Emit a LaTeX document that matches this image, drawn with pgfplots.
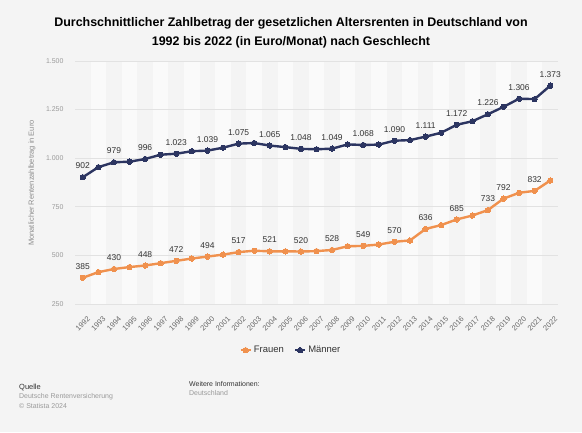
\documentclass[border=0pt]{standalone}
\usepackage{pgfplots}
\pgfplotsset{compat=1.18}
\usepackage{fontspec}
\setmainfont{Liberation Sans}
\definecolor{bgc}{HTML}{F4F4F4}
\definecolor{stripe}{HTML}{FAFAFA}
\definecolor{gridc}{HTML}{E2E2E2}
\definecolor{navy}{HTML}{2C3561}
\definecolor{orng}{HTML}{F0914E}
\definecolor{txt}{HTML}{333333}
\definecolor{tick}{HTML}{9A9A9A}
\definecolor{xtick}{HTML}{666666}
\definecolor{ylab}{HTML}{8C8C8C}
\begin{document}
\begin{tikzpicture}[x=1bp,y=1bp]
\fill[bgc] (0,0) rectangle (582,432);
\node[font=\fontsize{12.5}{19.5}\selectfont\bfseries, text=black, align=center, anchor=north] at (291,418)
  {Durchschnittlicher Zahlbetrag der gesetzlichen Altersrenten in Deutschland von\\1992 bis 2022 (in Euro/Monat) nach Geschlecht};
\begin{axis}[
  at={(75bp,128bp)}, anchor=south west,
  scale only axis, width=483bp, height=243bp,
  xmin=1991.5, xmax=2022.5, ymin=250, ymax=1500,
  axis line style={draw=none},
  major tick length=0pt,
  xtick={1992,1993,...,2022},
  xticklabels={1992,1993,1994,1995,1996,1997,1998,1999,2000,2001,2002,2003,2004,2005,2006,2007,2008,2009,2010,2011,2012,2013,2014,2015,2016,2017,2018,2019,2020,2021,2022},
  xticklabel style={yshift=-12bp, xshift=4bp, rotate=45, anchor=north east, font=\fontsize{7.5}{8}\selectfont, text=xtick, inner sep=0pt},
  ytick={250,500,750,1000,1250,1500},
  yticklabels={250,500,750,{1.000},{1.250},{1.500}},
  yticklabel style={font=\fontsize{7}{8}\selectfont, text=tick, xshift=-8bp},
  clip=false,
  legend style={at={(0.447,-0.19)}, anchor=center, draw=none, fill=none, legend columns=2,
    font=\fontsize{9.5}{10}\selectfont, text=txt, /tikz/every even column/.append style={column sep=8bp}},
  legend image code/.code={\draw[mark repeat=2,mark phase=2,#1] plot coordinates {(0bp,0bp) (5bp,0bp) (10bp,0bp)};},
  nodes near coords, point meta=explicit symbolic,
  every node near coord/.append style={font=\fontsize{8.5}{9}\selectfont, text=txt, anchor=south, yshift=5bp},
]
\pgfplotsinvokeforeach{1993,1995,...,2021}{
  \fill[stripe] (axis cs:#1-0.5,250) rectangle (axis cs:#1+0.5,1500);
}
\pgfplotsinvokeforeach{250,500,750,1000,1250,1500}{
  \draw[gridc, line width=0.8bp] (axis cs:1991.5,#1) -- (axis cs:2022.5,#1);
}
\addplot[orng, line width=2.4bp, mark=*, mark size=2.7bp, mark options={fill=orng, draw=orng, line width=0pt}] coordinates {
(1992,385) [385] (1993,414) [] (1994,430) [430] (1995,440) [] (1996,448) [448] (1997,460) [] (1998,472) [472] (1999,484) [] (2000,494) [494] (2001,504) [] (2002,517) [517] (2003,524) [] (2004,521) [521] (2005,521) [] (2006,520) [520] (2007,522) [] (2008,528) [528] (2009,547) [] (2010,549) [549] (2011,556) [] (2012,570) [570] (2013,577) [] (2014,636) [636] (2015,656) [] (2016,685) [685] (2017,705) [] (2018,733) [733] (2019,792) [792] (2020,822) [] (2021,832) [832] (2022,885) []
};
\addlegendentry{Frauen}
\addplot[navy, line width=2.4bp, mark=*, mark size=2.7bp, mark options={fill=navy, draw=navy, line width=0pt}] coordinates {
(1992,902) [902] (1993,954) [] (1994,979) [979] (1995,982) [] (1996,996) [996] (1997,1018) [] (1998,1023) [1.023] (1999,1036) [] (2000,1039) [1.039] (2001,1054) [] (2002,1075) [1.075] (2003,1078) [] (2004,1065) [1.065] (2005,1057) [] (2006,1048) [1.048] (2007,1046) [] (2008,1049) [1.049] (2009,1071) [] (2010,1068) [1.068] (2011,1070) [] (2012,1090) [1.090] (2013,1093) [] (2014,1111) [1.111] (2015,1131) [] (2016,1172) [1.172] (2017,1190) [] (2018,1226) [1.226] (2019,1264) [] (2020,1306) [1.306] (2021,1304) [] (2022,1373) [1.373]
};
\addlegendentry{Männer}
\end{axis}
\node[rotate=90, font=\fontsize{7.5}{8}\selectfont, text=ylab] at (32,249) {Monatlicher Rentenzahlbetrag in Euro};
\node[anchor=base west, font=\fontsize{7.5}{8}\selectfont, text=txt, inner sep=0pt] at (19,43) {Quelle};
\node[anchor=base west, font=\fontsize{7}{8}\selectfont, text=tick, inner sep=0pt] at (19,33.5) {Deutsche Rentenversicherung};
\node[anchor=base west, font=\fontsize{7}{8}\selectfont, text=tick, inner sep=0pt] at (19,24) {© Statista 2024};
\node[anchor=base west, font=\fontsize{7}{8}\selectfont, text=txt, inner sep=0pt] at (189,46) {Weitere Informationen:};
\node[anchor=base west, font=\fontsize{7}{8}\selectfont, text=tick, inner sep=0pt] at (189,36.5) {Deutschland};
\pgfresetboundingbox
\path (0,0) rectangle (582,432);
\end{tikzpicture}
\end{document}
